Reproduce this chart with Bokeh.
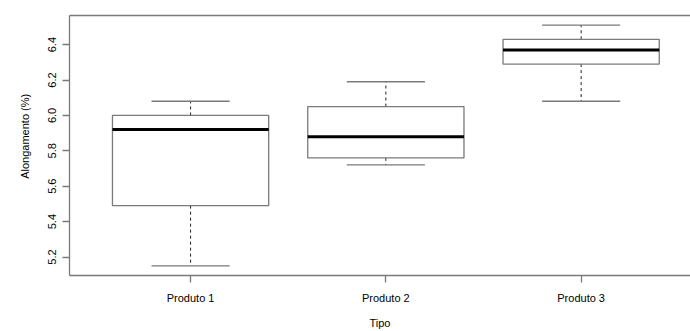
from bokeh.plotting import figure
from bokeh.models import Range1d, FixedTicker, LinearAxis, ColumnDataSource
from bokeh.embed import file_html
from bokeh.resources import INLINE

# Five-number summaries of elongation (%) per product type
categories = ["Produto 1", "Produto 2", "Produto 3"]
mins = [5.15, 5.72, 6.08]
q1s = [5.49, 5.76, 6.29]
medians = [5.92, 5.88, 6.37]
q3s = [6.00, 6.05, 6.43]
maxs = [6.08, 6.19, 6.51]
y_ticks = [5.2, 5.4, 5.6, 5.8, 6.0, 6.2, 6.4]

GRAY = "#7a7a7a"
FONT = "Liberation Sans"

pos = list(range(1, len(categories) + 1))
box_half = 0.4
cap_half = 0.2

src = ColumnDataSource(dict(
    x=pos,
    left=[p - box_half for p in pos],
    right=[p + box_half for p in pos],
    cap_l=[p - cap_half for p in pos],
    cap_r=[p + cap_half for p in pos],
    lo=mins, q1=q1s, med=medians, q3=q3s, hi=maxs,
))

# axis limits padded by 4% like a base-graphics boxplot
y_lo, y_hi = min(mins), max(maxs)
pad = 0.04 * (y_hi - y_lo)
x_start = 0.5 - 0.04 * len(categories)

p = figure(width=690, height=331, output_backend="svg", toolbar_location=None,
           x_range=Range1d(x_start, x_start + 3.18), y_range=Range1d(y_lo - pad, y_hi + pad),
           min_border_left=69, min_border_right=0, min_border_top=15, min_border_bottom=55)
p.outline_line_color = None
p.xgrid.visible = False
p.ygrid.visible = False
p.background_fill_color = "white"
p.border_fill_color = "white"

# whiskers (dashed) and caps
p.segment(x0="x", y0="q3", x1="x", y1="hi", source=src, line_color="#222222",
          line_width=1, line_dash="3 3")
p.segment(x0="x", y0="q1", x1="x", y1="lo", source=src, line_color="#222222",
          line_width=1, line_dash="3 3")
p.segment(x0="cap_l", y0="hi", x1="cap_r", y1="hi", source=src, line_color=GRAY, line_width=1.3)
p.segment(x0="cap_l", y0="lo", x1="cap_r", y1="lo", source=src, line_color=GRAY, line_width=1.3)

# boxes and medians
p.quad(left="left", right="right", bottom="q1", top="q3", source=src,
       fill_color="white", line_color=GRAY, line_width=1.3)
p.segment(x0="left", y0="med", x1="right", y1="med", source=src, line_color="black", line_width=3)

# x axis
xa = p.xaxis[0]
xa.ticker = FixedTicker(ticks=pos)
xa.major_label_overrides = {i: c for i, c in zip(pos, categories)}
xa.axis_label = "Tipo"
xa.minor_tick_line_color = None

# y axis (leading no-break spaces nudge the title upward)
ya = p.yaxis[0]
ya.ticker = FixedTicker(ticks=y_ticks)
ya.major_label_overrides = {t: f"{t:.1f}" for t in y_ticks}
ya.major_label_orientation = "vertical"
ya.axis_label = "\u00a0" * 6 + "Alongamento (%)"
ya.minor_tick_line_color = None

for ax in (xa, ya):
    ax.axis_line_color = GRAY
    ax.axis_line_width = 1.3
    ax.major_tick_line_color = GRAY
    ax.major_tick_line_width = 1.3
    ax.major_tick_in = 0
    ax.major_tick_out = 7
    ax.major_label_text_font = FONT
    ax.major_label_text_font_size = "11px"
    ax.major_label_text_color = "black"
    ax.axis_label_text_font = FONT
    ax.axis_label_text_font_size = "11px"
    ax.axis_label_text_font_style = "normal"
    ax.axis_label_text_color = "black"

xa.major_label_standoff = 9
xa.axis_label_standoff = 10
ya.major_label_standoff = 6
ya.axis_label_standoff = 15

# top frame line
top = LinearAxis(ticker=FixedTicker(ticks=[]), axis_line_color=GRAY, axis_line_width=1.3,
                 major_tick_line_color=None, minor_tick_line_color=None,
                 major_label_text_font_size="0px")
p.add_layout(top, "above")

open("out.html", "w").write(file_html(p, INLINE))
